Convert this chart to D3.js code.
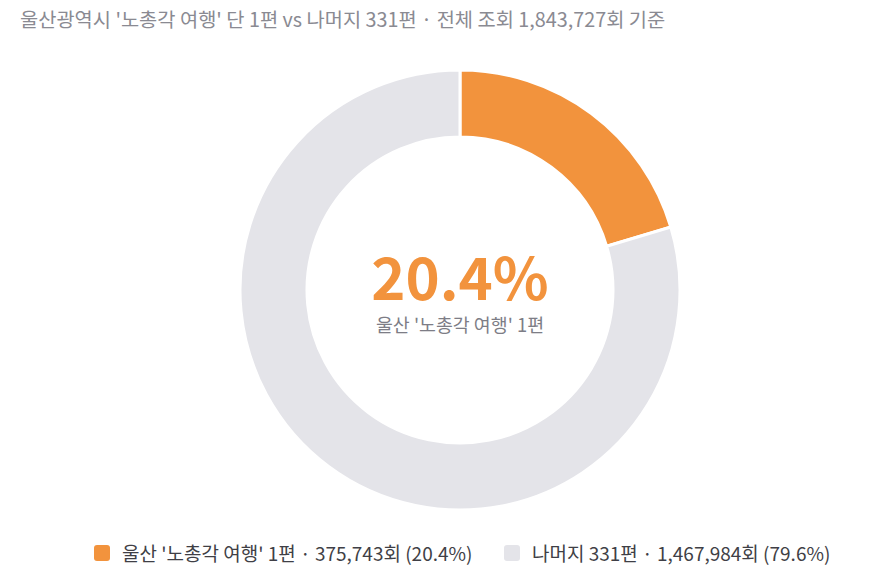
<!DOCTYPE html>
<html>
<head>
<meta charset="utf-8">
<script src="https://cdn.jsdelivr.net/npm/d3@7"></script>
<style>
  body { margin: 0; background: #fff; }
  svg { display: block; font-family: "Noto Sans CJK KR", "Noto Sans", sans-serif; }
</style>
</head>
<body>
<svg id="chart" width="875" height="572"></svg>
<script>
'use strict';

var labels = ["울산 '노총각 여행' 1편", '나머지 331편'];
var views = [375743, 1467984];
var shares = ['20.4%', '79.6%'];
var colors = ['#f2933d', '#e4e4e9'];
var titleText = "울산광역시 '노총각 여행' 단 1편 vs 나머지 331편 · 전체 조회 1,843,727회 기준";

var cx = 460;
var cy = 290;
var outerR = 220;
var innerR = 153;

let svg = d3.select('#chart');

svg.append('text')
    .attr('x', 20)
    .attr('y', 27)
    .attr('font-size', 19.8)
    .attr('fill', '#8a8a92')
    .text(titleText);

let pie = d3.pie().sort(null).value(d => d);
let arc = d3.arc().innerRadius(innerR).outerRadius(outerR);

let g = svg.append('g').attr('transform', `translate(${cx},${cy})`);

g.selectAll('path')
    .data(pie(views))
    .enter()
    .append('path')
    .attr('d', arc)
    .attr('fill', (d, i) => colors[i])
    .attr('stroke', '#fff')
    .attr('stroke-width', 3);

g.append('text')
    .attr('text-anchor', 'middle')
    .attr('y', 10)
    .attr('font-size', 58)
    .attr('font-weight', 700)
    .attr('fill', colors[0])
    .text(shares[0]);

g.append('text')
    .attr('text-anchor', 'middle')
    .attr('y', 42)
    .attr('font-size', 18.4)
    .attr('fill', '#7d7d86')
    .text(labels[0]);

// legend
let legend = svg.append('g');
let fmt = d3.format(',');
let items = labels.map((l, i) => `${l} · ${fmt(views[i])}회 (${shares[i]})`);
let xs = [94, 504];

items.forEach((t, i) => {
    legend.append('rect')
        .attr('x', xs[i])
        .attr('y', 545)
        .attr('width', 16)
        .attr('height', 16)
        .attr('rx', 3)
        .attr('fill', colors[i]);
    legend.append('text')
        .attr('x', xs[i] + 28)
        .attr('y', 561)
        .attr('font-size', 19)
        .attr('fill', '#3f3f46')
        .text(t);
});
</script>
</body>
</html>
